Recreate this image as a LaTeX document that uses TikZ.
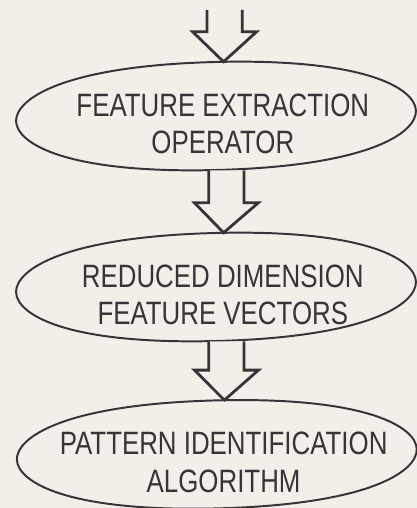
\documentclass[tikz,border=0pt]{standalone}
\usepackage{fontspec}
\setmainfont{Liberation Sans}[FakeStretch=0.8]
\usetikzlibrary{shapes.geometric,calc}

\definecolor{ink}{RGB}{58,50,56}
\definecolor{paper}{RGB}{242,239,233}

\tikzset{
    stagebox/.style={ellipse, rotate=1.5, minimum width=10cm,
        minimum height=2.7cm, inner sep=0pt},
    stageline/.style={draw=ink, line width=1.4pt},
    stagetext/.style={text=ink, align=center, xshift=0.17cm, yshift=-0.2cm,
        font=\fontsize{23}{26.5}\selectfont},
    blockarrow/.style={draw=ink, line width=2pt, line join=miter, fill=paper}
}

% a stage: named box #1 at #2, a full oval drawn round it, text #3
\newcommand{\stage}[3]{%
    \node[stagebox] (#1) at (#2) {};
    \draw[stageline, shift={(#2)}, rotate=1.5]
        (-5,0) .. controls (-5,0.55) and (-3.8,1.35) .. (0,1.35)
        .. controls (3.8,1.35) and (5,0.55) .. (5,0)
        .. controls (5,-0.55) and (3.8,-1.35) .. (0,-1.35)
        .. controls (-3.8,-1.35) and (-5,-0.55) .. (-5,0) -- cycle;
    \node[stagetext] at (#1) {#3};
}

% hollow block arrow from the top of its shaft (#1) to its tip (#2)
\newcommand{\blockarrow}[2]{%
    \draw[blockarrow] let \p1=(#1), \p2=(#2) in
        (\x1-0.44cm,\y1) -- (\x1-0.44cm,\y2+0.75cm) -- (\x1-0.8cm,\y2+0.75cm)
        -- (\x2,\y2) -- (\x1+0.8cm,\y2+0.75cm) -- (\x1+0.44cm,\y2+0.75cm)
        -- (\x1+0.44cm,\y1);
}

\begin{document}
\begin{tikzpicture}
    \fill[paper] (0,0) rectangle (10.425,12.7);
    \useasboundingbox (0,0) rectangle (10.425,12.7);

    \stage{extract}{5.4,9.8}{FEATURE EXTRACTION\\OPERATOR}
    \stage{reduced}{5.4,5.525}{REDUCED DIMENSION\\FEATURE VECTORS}
    \stage{identify}{5.42,1.34}{PATTERN IDENTIFICATION\\ALGORITHM}

    \coordinate (top) at (5.615,12.45);

    \blockarrow{top}{[xshift=0.225cm]extract.north}
    \blockarrow{[xshift=0.225cm]extract.south}{[xshift=0.225cm]reduced.north}
    \blockarrow{[xshift=0.225cm]reduced.south}{[xshift=0.225cm]identify.north}
\end{tikzpicture}
\end{document}
